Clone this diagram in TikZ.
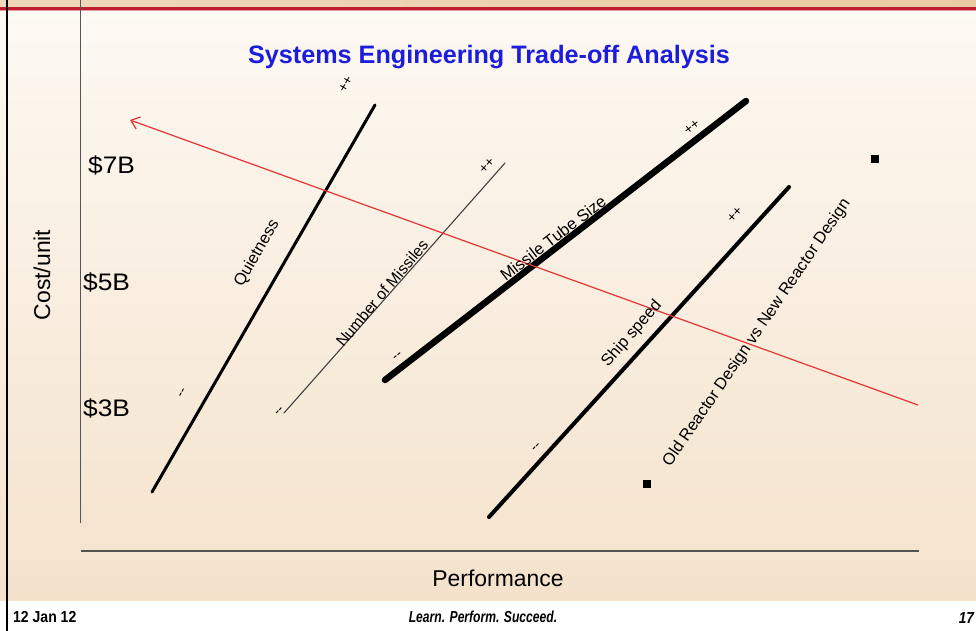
\documentclass[tikz,border=0pt]{standalone}
\usepackage{fontspec}
\setmainfont{Liberation Sans}
\usetikzlibrary{arrows.meta}

\definecolor{slidetop}{RGB}{253,249,243}
\definecolor{slidebot}{RGB}{244,226,203}
\definecolor{bandtan}{RGB}{233,203,163}
\definecolor{bandred}{RGB}{190,30,45}
\definecolor{bandpink}{RGB}{232,150,160}
\definecolor{axisgray}{RGB}{85,85,85}
\definecolor{titleblue}{RGB}{28,28,220}
\definecolor{tradered}{RGB}{228,52,52}

\begin{document}
\begin{tikzpicture}[x=1bp, y=-1bp,
  axisline/.style={draw=axisgray, line width=1.3bp},
  axlabel/.style={font=\fontsize{23}{26}\selectfont, inner sep=0pt},
  costlabel/.style={font=\fontsize{24}{26}\selectfont, inner sep=0pt, xscale=1.1},
  heading/.style={font=\fontsize{25.3}{28}\selectfont\bfseries, text=titleblue, inner sep=0pt},
  lbl/.style={font=\fontsize{16.5}{18}\selectfont, inner sep=0pt},
  sgn/.style={font=\fontsize{14}{15}\selectfont, inner sep=0pt},
  factor/.style={draw=black, line cap=round},
  sq/.style={fill=black, minimum size=8bp, inner sep=0pt},
  tradeline/.style={draw=tradered, line width=1.2bp,
    -{Straight Barb[length=8pt, width=13pt]}},
  foot/.style={font=\fontsize{16}{18}\selectfont\bfseries, inner sep=0pt}
]
\useasboundingbox (0,0) rectangle (976,631);

% slide background, header band and footer strip
\fill[white] (0,0) rectangle (976,631);
\shade[top color=slidetop, bottom color=slidebot] (0,11) rectangle (976,600);
\shade[left color=bandtan!75!white, right color=bandtan] (0,0) rectangle (976,7.3);
\fill[bandred] (0,7.3) rectangle (976,10);
\fill[bandpink] (0,10) rectangle (976,11.4);
\draw[line width=2.2bp] (7,0) -- (7,631);

% axes
\coordinate (ytop) at (80.5,0);
\coordinate (ybot) at (80.5,523);
\coordinate (xleft) at (81,551);
\coordinate (xright) at (919,551);
\draw[axisline] (ytop) -- (ybot);
\draw[axisline] (xleft) -- (xright);

\node[heading] (title) at (489,57) {Systems Engineering Trade-off Analysis};
\node[axlabel, rotate=90] (ylab) at (42,275) {Cost/unit};
\node[axlabel] (xlab) at (498,578) {Performance};
\node[costlabel, anchor=west] (c7) at (88,165) {\$7B};
\node[costlabel, anchor=west] (c5) at (83,282) {\$5B};
\node[costlabel, anchor=west] (c3) at (83,408) {\$3B};

% trade-off direction
\coordinate (tradeA) at (918,405);
\coordinate (tradeB) at (130,120);

% design factors
\coordinate (qa) at (152,492);
\coordinate (qb) at (375,105);
\coordinate (na) at (284,413);
\coordinate (nb) at (505,163);
\coordinate (ma) at (385,380);
\coordinate (mb) at (746,101);
\coordinate (sa) at (489,517);
\coordinate (sb) at (789,187);

\draw[factor, line width=3bp] (qa) -- (qb);
\draw[factor, draw=black!75, line width=1.1bp] (na) -- (nb);
\draw[factor, line width=6.5bp] (ma) -- (mb);
\draw[factor, line width=4bp] (sa) -- (sb);

\draw[tradeline] (tradeA) -- (tradeB);

\node[lbl, rotate=60] (qlab) at (257,253) {Quietness};
\node[lbl, rotate=50, font=\fontsize{15.8}{18}\selectfont] (nlab) at (382,293) {Number of Missiles};
\node[lbl, rotate=37.6] (mlab) at (553,238) {Missile Tube Size};
\node[lbl, rotate=49] (slab) at (632,334) {Ship speed};
\node[lbl, rotate=55.7] (olab) at (757,333) {Old Reactor Design vs New Reactor Design};

\node[sgn, rotate=60] (qplus) at (346,84) {++};
\node[sgn, rotate=48.5] (nplus) at (487,166) {++};
\node[sgn, rotate=37.6] (mplus) at (692,127) {++};
\node[sgn, rotate=47.8] (splus) at (735,215) {++};
\node[sgn, rotate=60] (qminus) at (183,393) {-{}-};
\node[sgn, rotate=48.5] (nminus) at (280,412) {-{}-};
\node[sgn, rotate=37.6] (mminus) at (398,357) {-{}-};
\node[sgn, rotate=47.8] (sminus) at (537,448) {-{}-};

\node[sq] (oldreactor) at (647,484) {};
\node[sq] (newreactor) at (875,159) {};

% footer
\node[foot, anchor=west, xscale=0.88] (date) at (13,617) {12 Jan 12};
\node[foot, xscale=0.76] (motto) at (483,617) {\itshape Learn. Perform. Succeed.};
\node[foot, anchor=east, xscale=0.85] (page) at (974,618) {\itshape 17};
\end{tikzpicture}
\end{document}
